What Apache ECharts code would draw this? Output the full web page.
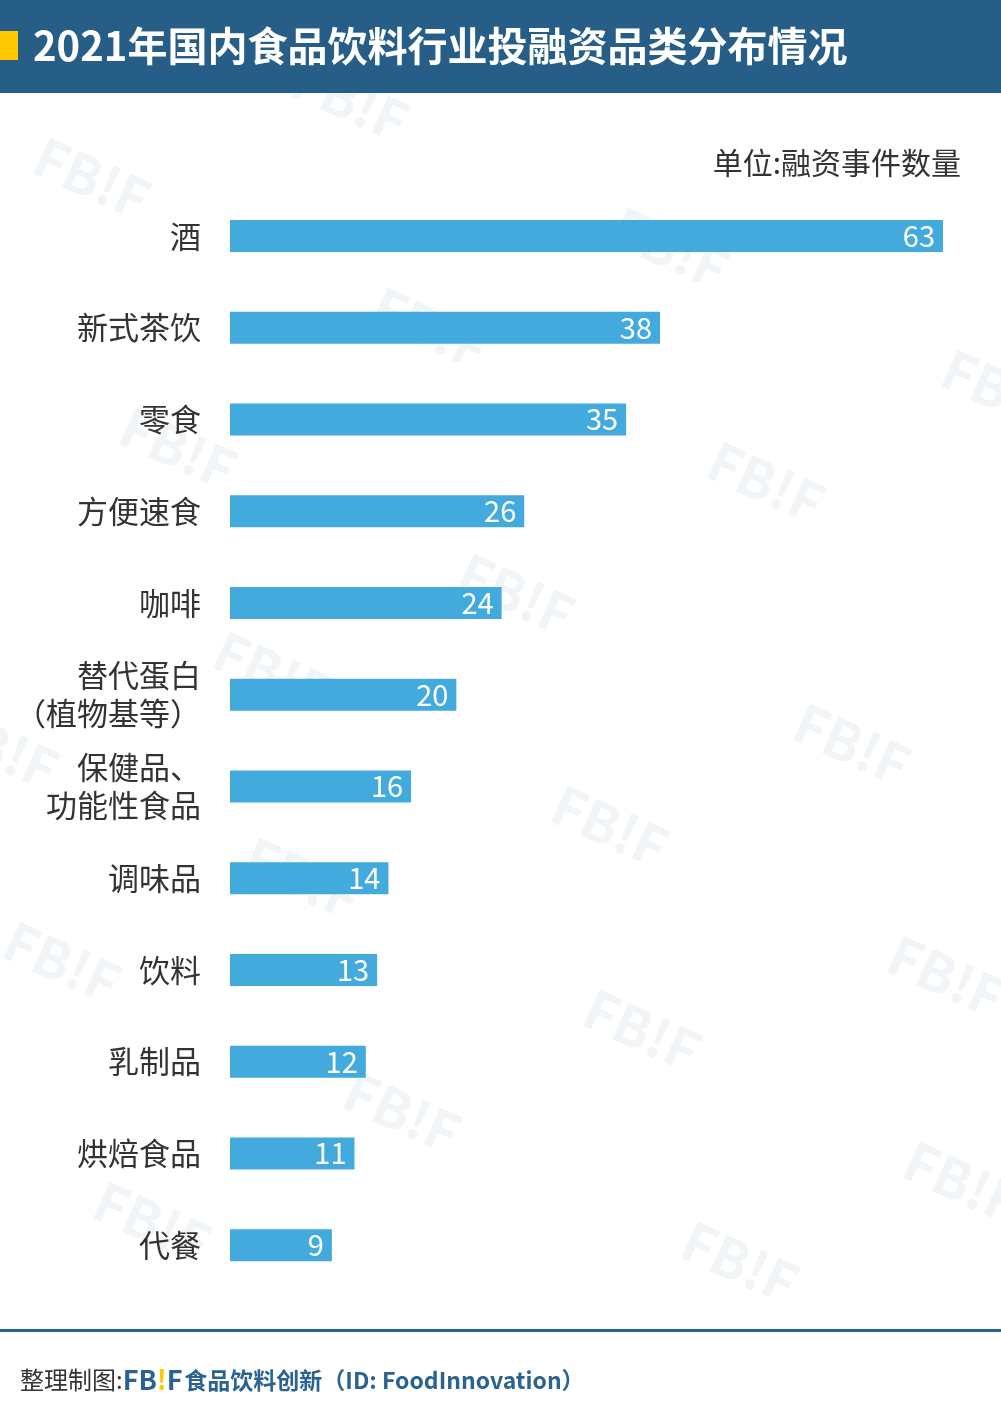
<!DOCTYPE html>
<html>
<head>
<meta charset="utf-8">
<script src="https://cdn.jsdelivr.net/npm/echarts@6/dist/echarts.min.js"></script>
<style>
html,body{margin:0;padding:0;background:#fff;}
#c{width:1001px;height:1426px;}
</style>
</head>
<body>
<div id="c"></div>
<script>
const categories = ['酒','新式茶饮','零食','方便速食','咖啡','替代蛋白\n（植物基等）','保健品、\n功能性食品','调味品','饮料','乳制品','烘焙食品','代餐'];
const values = [63,38,35,26,24,20,16,14,13,12,11,9];
const titleText = '2021年国内食品饮料行业投融资品类分布情况';
const unitText = '单位:融资事件数量';

const FONT = '"Noto Sans CJK SC","Noto Sans",sans-serif';
const chart = echarts.init(document.getElementById('c'));

const wmPos = [[92,178],[350,100],[670,248],[430,328],[1000,390],[178,448],[766,482],[516,594],[272,672],[852,744],[0,748],[610,826],[302,878],[62,962],[946,976],[642,1030],[402,1112],[962,1182],[152,1222],[740,1262]];
const watermarks = wmPos.map(p => ({
  type:'text', x:p[0], y:p[1], rotation:-0.42, z:-1, silent:true,
  style:{text:'FB!F', fontSize:54, fontWeight:'bold', fontFamily:FONT, fill:'rgba(200,215,228,0.25)', textAlign:'center', textVerticalAlign:'middle'}
}));

chart.setOption({
  backgroundColor:'#ffffff',
  animation:false,
  grid:{left:230, right:58, top:190, bottom:135, containLabel:false},
  xAxis:{type:'value', min:0, max:63, show:false},
  yAxis:{
    type:'category', data:categories, inverse:true,
    axisLine:{show:false}, axisTick:{show:false}, splitLine:{show:false},
    axisLabel:{fontSize:31, color:'#333333', fontFamily:FONT, margin:29, lineHeight:38, align:'right'}
  },
  series:[{
    type:'bar', data:values, barWidth:32,
    itemStyle:{color:'#43AADD'},
    label:{show:true, position:'insideRight', distance:8, color:'#ffffff', fontSize:29, fontFamily:FONT}
  }],
  graphic:[
    {type:'rect', shape:{x:0,y:0,width:1001,height:93}, style:{fill:'#275E87'}, z:10},
    {type:'rect', shape:{x:0,y:31,width:18,height:29}, style:{fill:'#FFC800'}, z:11},
    {type:'text', x:33, y:46, z:11, style:{text:titleText, fontSize:40, fontWeight:'bold', fontFamily:FONT, fill:'#ffffff', textVerticalAlign:'middle'}},
    {type:'text', x:961, y:163, z:11, style:{text:unitText, fontSize:30, fontFamily:FONT, fill:'#333333', textAlign:'right', textVerticalAlign:'middle'}},
    {type:'rect', shape:{x:0,y:1329,width:1001,height:3}, style:{fill:'#2A6290'}, z:10},
    {type:'text', x:20, y:1380, z:11, style:{
      text:'{a|整理制图:}{b|FB}{y|!}{b|F}{s| }{c|食品饮料创新（ID: FoodInnovation）}',
      textVerticalAlign:'middle',
      rich:{
        a:{fontSize:24, fontFamily:FONT, fill:'#333333'},
        b:{fontSize:27, fontFamily:FONT, fontWeight:'bold', fill:'#2A6290'},
        y:{fontSize:27, fontFamily:FONT, fontWeight:'bold', fill:'#FFC800'},
        s:{fontSize:6},
        c:{fontSize:23, fontFamily:FONT, fontWeight:'bold', fill:'#2A6290'}
      }
    }}
  ].concat(watermarks)
});
</script>
</body>
</html>
